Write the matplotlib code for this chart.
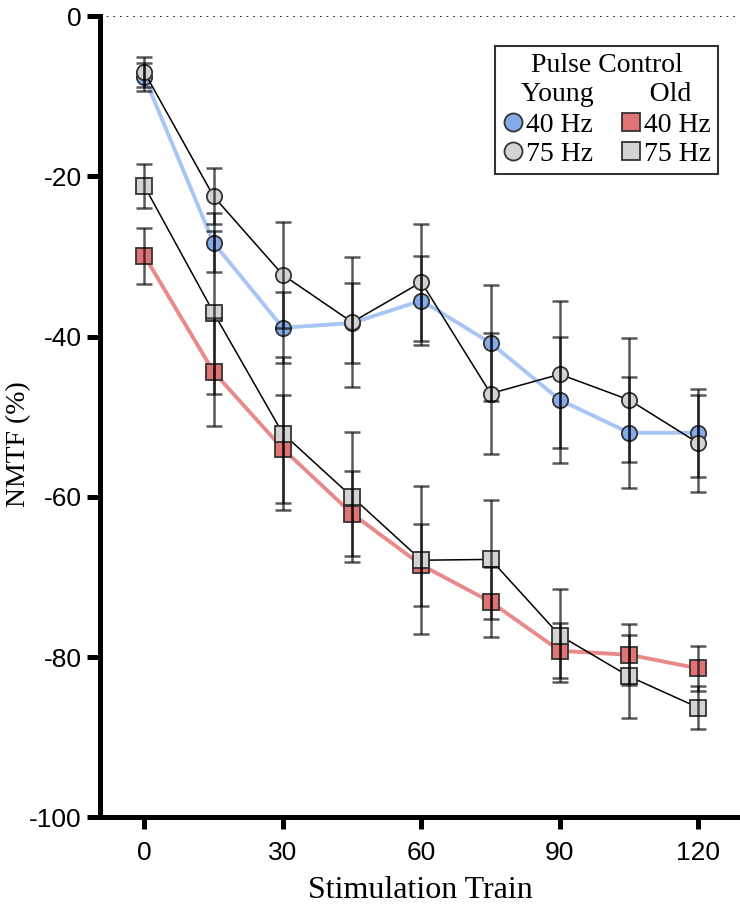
import matplotlib.pyplot as plt
from matplotlib.lines import Line2D

# stimulation trains
trains = [0, 15, 30, 45, 60, 75, 90, 105, 120]

# young, 40 Hz and 75 Hz
young_40 = [-7.6, -28.3, -38.9, -38.3, -35.5, -40.8, -47.9, -52.0, -52.0]
young_40_err = [1.8, 3.7, 4.45, 4.95, 5.5, 7.2, 7.85, 6.95, 5.5]
young_75 = [-7.0, -22.5, -32.3, -38.2, -33.2, -47.1, -44.7, -47.9, -53.3]
young_75_err = [1.85, 3.5, 6.6, 8.1, 7.3, 7.5, 9.2, 7.7, 6.05]

# old, 40 Hz and 75 Hz
old_40 = [-29.9, -44.4, -54.0, -62.1, -68.5, -73.1, -79.2, -79.7, -81.4]
old_40_err = [3.5, 6.7, 6.7, 5.3, 5.1, 4.4, 3.45, 3.8, 2.85]
old_75 = [-21.2, -37.0, -52.1, -60.0, -67.9, -67.8, -77.3, -82.4, -86.3]
old_75_err = [2.7, 10.2, 9.5, 8.1, 9.2, 7.4, 5.75, 5.2, 2.65]

blue_fill = '#85abea'
blue_line = '#a9c5f3'
red_fill = '#e07474'
red_line = '#e98a8a'
grey_fill = '#d3d3d3'
edge = '#333333'

plt.rcParams['axes.unicode_minus'] = False
serif = ['Liberation Serif', 'DejaVu Serif']
sans = ['Liberation Sans', 'DejaVu Sans']

fig = plt.figure(figsize=(7.4, 9.05), dpi=100)
ax = fig.add_axes([0.1351, 0.0967, 0.8649, 0.8856])

ax.axhline(0, color='black', linestyle=(0, (1, 3)), linewidth=1.2, zorder=1)

ax.plot(trains, young_40, color=blue_line, linewidth=2.8, zorder=2)
ax.plot(trains, old_40, color=red_line, linewidth=2.8, zorder=2)
ax.plot(trains, young_40, linestyle='none', marker='o', markersize=11,
        markerfacecolor=blue_fill, markeredgecolor=edge, markeredgewidth=1.3, zorder=3)
ax.plot(trains, old_40, linestyle='none', marker='s', markersize=11,
        markerfacecolor=red_fill, markeredgecolor=edge, markeredgewidth=1.3, zorder=3)
ax.plot(trains, young_75, color='black', linewidth=1.1, marker='o', markersize=11,
        markerfacecolor=grey_fill, markeredgecolor=edge, markeredgewidth=1.3, zorder=4)
ax.plot(trains, old_75, color='black', linewidth=1.1, marker='s', markersize=11,
        markerfacecolor=grey_fill, markeredgecolor=edge, markeredgewidth=1.3, zorder=4)

for vals, errs in [(young_40, young_40_err), (young_75, young_75_err),
                   (old_40, old_40_err), (old_75, old_75_err)]:
    ax.errorbar(trains, vals, yerr=errs, fmt='none', ecolor='black', elinewidth=1.8,
                capsize=6, capthick=1.8, alpha=0.65, zorder=5)

ax.set_xlim(-9.6, 129)
ax.set_ylim(-100, 0)
ax.set_xticks([0, 30, 60, 90, 120])
ax.set_yticks([0, -20, -40, -60, -80, -100])
ax.spines['top'].set_visible(False)
ax.spines['right'].set_visible(False)
ax.spines['left'].set_linewidth(3.6)
ax.spines['bottom'].set_linewidth(3.6)
ax.tick_params(axis='both', width=3.6, labelsize=19)
ax.tick_params(axis='x', length=8.6, pad=8)
ax.tick_params(axis='y', length=9.4, pad=3.6)
for lab in ax.get_xticklabels() + ax.get_yticklabels():
    lab.set_family(sans)

ax.set_xlabel('Stimulation Train', family=serif, fontsize=23, labelpad=8)
ax.set_ylabel('NMTF (%)', family=serif, fontsize=20)
ax.yaxis.set_label_coords(-0.108, 0.466)

handles = [
    Line2D([], [], linestyle='none', marker='o', markersize=13, markerfacecolor=blue_fill,
           markeredgecolor=edge, markeredgewidth=1.3),
    Line2D([], [], linestyle='none', marker='o', markersize=13, markerfacecolor=grey_fill,
           markeredgecolor=edge, markeredgewidth=1.3),
    Line2D([], [], linestyle='none', marker='s', markersize=13, markerfacecolor=red_fill,
           markeredgecolor=edge, markeredgewidth=1.3),
    Line2D([], [], linestyle='none', marker='s', markersize=13, markerfacecolor=grey_fill,
           markeredgecolor=edge, markeredgewidth=1.3),
]
leg = ax.legend(handles, ['40 Hz', '75 Hz', '40 Hz', '75 Hz'], ncol=2,
                title='Pulse Control\nYoung        Old',
                loc='upper right', bbox_to_anchor=(0.9655, 0.9625), borderaxespad=0,
                prop={'family': serif, 'size': 20}, title_fontproperties={'family': serif, 'size': 20},
                frameon=True, fancybox=False, edgecolor='black', handlelength=0.8,
                handletextpad=0.05, columnspacing=1.0, labelspacing=0.12, borderpad=0.25)
leg.get_frame().set_linewidth(1.5)
leg.get_title().set_multialignment('center')
leg._legend_box.sep = 4

fig.savefig('out.png', dpi=100)
